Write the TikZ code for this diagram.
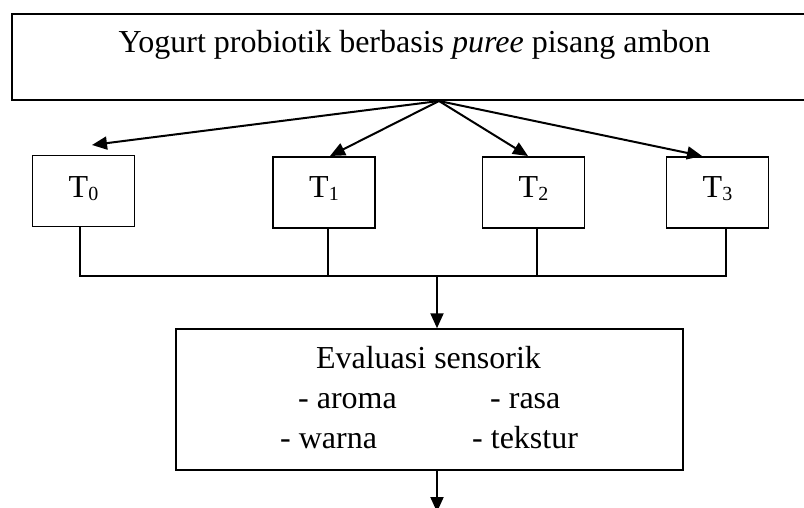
\documentclass[tikz,border=0pt]{standalone}
\usepackage{fontspec}
\setmainfont{Liberation Serif}
\usetikzlibrary{arrows.meta,calc}
\newcommand{\tsub}[1]{T{\fontsize{20}{20}\selectfont\raisebox{-3pt}{#1}}}
\begin{document}
\begin{tikzpicture}[x=1pt,y=-1pt,
  every node/.style={font=\fontsize{32}{38}\selectfont, inner sep=0pt},
  tbox/.style={draw, line width=1.2pt, minimum width=102pt, minimum height=71pt},
  arr/.style={line width=2pt, -{Triangle[length=15pt,width=13pt]}},
  bus/.style={line width=1.7pt},
  lbl/.style={anchor=base west}]
\useasboundingbox (0,0) rectangle (804,508);
% top box
\node[draw, line width=2pt, minimum width=854pt, minimum height=86pt] (top) at (439,57) {};
\node[anchor=base] (toptext) at (414.5,53) {Yogurt probiotik berbasis \textit{puree} pisang ambon};
% treatment boxes
\node[tbox] (t0) at (83.5,191) {};
\node[tbox] (t1) at (324,192.5) {};
\node[tbox] (t2) at (533.5,192.5) {};
\node[tbox] (t3) at (717.5,192.5) {};
\node[anchor=base] (l0) at (t0.center |- 0,197) {\tsub{0}};
\node[anchor=base] (l1) at (t1.center |- 0,197) {\tsub{1}};
\node[anchor=base] (l2) at (t2.center |- 0,197) {\tsub{2}};
\node[anchor=base] (l3) at (t3.center |- 0,197) {\tsub{3}};
% arrows from top box
\coordinate (apex) at (top.south);
\coordinate (a0) at (92,145);
\coordinate (a1) at (330,156);
\coordinate (a2) at (528,156);
\coordinate (a3) at (702,156);
\draw[arr] (apex) -- (a0);
\draw[arr] (apex) -- (a1);
\draw[arr] (apex) -- (a2);
\draw[arr] (apex) -- (a3);
% bus
\coordinate (jn) at (437,276);
\draw[bus] ([xshift=-3.5pt]t0.south) |- (jn);
\draw[bus] ([xshift=4pt]t1.south) |- (jn);
\draw[bus] ([xshift=3.5pt]t2.south) |- (jn);
\draw[bus] ([xshift=8.5pt]t3.south) |- (jn);
% evaluation box
\node[draw, line width=1.5pt, minimum width=507pt, minimum height=141pt] (eval) at (429.5,399.5) {};
\node[anchor=base] (etitle) at (428.5,368) {Evaluasi sensorik};
\node[lbl] (aroma) at (298,408) {- aroma};
\node[lbl] (rasa) at (490,408) {- rasa};
\node[lbl] (warna) at (280,448) {- warna};
\node[lbl] (tekstur) at (472,448) {- tekstur};
\draw[arr] (jn) -- (jn |- eval.north);
\coordinate (out) at (437,512);
\draw[arr] (eval.south -| jn) -- (out);
\end{tikzpicture}
\end{document}
